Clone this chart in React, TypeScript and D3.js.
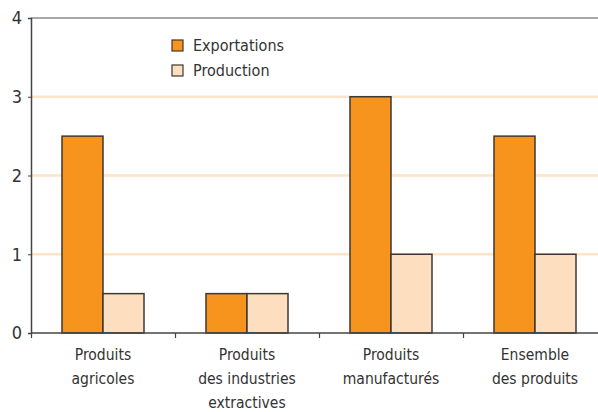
import React, { useEffect, useRef } from "react";
import * as d3 from "d3";

const categories = [
  ["Produits", "agricoles"],
  ["Produits", "des industries", "extractives"],
  ["Produits", "manufacturés"],
  ["Ensemble", "des produits"],
];
const seriesNames = ["Exportations", "Production"];
const exportations = [2.5, 0.5, 3, 2.5];
const production = [0.5, 0.5, 1, 1];
const yTicks = [0, 1, 2, 3, 4];

const colors = ["#F7941E", "#FDDFBF"];
const FONT = "'DejaVu Sans Condensed', 'Open Sans', sans-serif";

const App = () => {
  const ref = useRef<SVGSVGElement>(null);

  useEffect(() => {
    const width = 598;
    const svg = d3.select(ref.current);
    svg.selectAll("*").remove();

    const keys = categories.map((c) => c.join(" "));
    const x = d3.scaleBand().domain(keys).range([31, 607]).padding(0);
    const bw = x.bandwidth();
    const x1 = d3
      .scaleBand()
      .domain(seriesNames)
      .range([bw / 2 - 41, bw / 2 + 41])
      .padding(0);
    const y = d3.scaleLinear().domain([0, 4]).range([333, 18]);

    // grid lines
    svg
      .append("g")
      .selectAll("line")
      .data(yTicks.filter((t) => t > 0 && t < 4))
      .enter()
      .append("line")
      .attr("x1", 31)
      .attr("x2", width)
      .attr("y1", (d) => y(d))
      .attr("y2", (d) => y(d))
      .attr("stroke", "#FDE3C8")
      .attr("stroke-width", 2.5);

    // top border
    svg
      .append("line")
      .attr("x1", 31)
      .attr("x2", width)
      .attr("y1", y(4))
      .attr("y2", y(4))
      .attr("stroke", "#555")
      .attr("stroke-width", 1.2);

    // bars
    const rows = keys.map((k, i) => ({ key: k, values: [exportations[i], production[i]] }));
    const groups = svg
      .append("g")
      .selectAll("g")
      .data(rows)
      .enter()
      .append("g")
      .attr("transform", (d) => `translate(${x(d.key)},0)`);
    groups
      .selectAll("rect")
      .data((d) => d.values.map((v, j) => ({ name: seriesNames[j], value: v, j })))
      .enter()
      .append("rect")
      .attr("x", (d) => x1(d.name)!)
      .attr("y", (d) => y(d.value))
      .attr("width", x1.bandwidth())
      .attr("height", (d) => y(0) - y(d.value))
      .attr("fill", (d) => colors[d.j])
      .attr("stroke", "#3d3833")
      .attr("stroke-width", 1.5);

    // x axis
    const xAxis = svg
      .append("g")
      .attr("transform", `translate(0,${y(0)})`)
      .call(
        d3
          .axisBottom(d3.scaleLinear().domain([31, 607]).range([31, 607]))
          .tickValues([31, 175, 319, 463])
          .tickSize(5)
          .tickFormat(() => "")
      );
    xAxis.select(".domain").attr("stroke", "#444").attr("stroke-width", 1.5).attr("d", `M31,0H${width}`);
    xAxis.selectAll(".tick line").attr("stroke", "#444").attr("stroke-width", 1.2);

    // category labels
    rows.forEach((r, i) => {
      const t = svg
        .append("text")
        .attr("x", x(r.key)! + bw / 2)
        .attr("y", 360)
        .attr("text-anchor", "middle")
        .attr("font-family", FONT)
        .attr("font-size", 15.5)
        .attr("fill", "#333");
      categories[i].forEach((line, li) => {
        t.append("tspan")
          .attr("x", x(r.key)! + bw / 2)
          .attr("dy", li === 0 ? 0 : 24)
          .text(line);
      });
    });

    // y axis
    const yAxis = svg
      .append("g")
      .attr("transform", "translate(31,0)")
      .call(d3.axisLeft(y).tickValues(yTicks).tickSize(3).tickFormat(d3.format("d")));
    yAxis.select(".domain").attr("stroke", "#444").attr("stroke-width", 1.5);
    yAxis.selectAll(".tick line").attr("stroke", "#444");
    yAxis
      .selectAll(".tick text")
      .attr("font-family", FONT)
      .attr("font-size", 18)
      .attr("fill", "#333")
      .attr("x", -9);

    // legend
    const legend = svg.append("g").attr("transform", "translate(172,40)");
    seriesNames.forEach((name, i) => {
      legend
        .append("rect")
        .attr("x", 0)
        .attr("y", i * 25)
        .attr("width", 11)
        .attr("height", 11)
        .attr("fill", colors[i])
        .attr("stroke", "#3d3833")
        .attr("stroke-width", 1.2);
      legend
        .append("text")
        .attr("x", 21)
        .attr("y", i * 25 + 11)
        .attr("font-family", FONT)
        .attr("font-size", 16)
        .attr("fill", "#333")
        .text(name);
    });
  }, []);

  return (
    <svg
      ref={ref}
      width={598}
      height={412}
      style={{ position: "absolute", left: 0, top: 0, background: "#fff" }}
    />
  );
};

export default App;
